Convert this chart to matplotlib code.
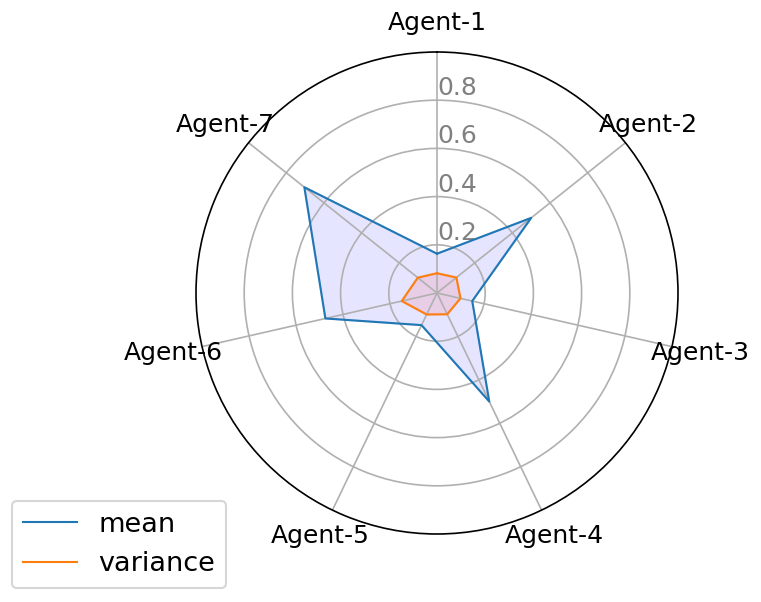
import numpy as np
import matplotlib
matplotlib.use("Agg")
import matplotlib.pyplot as plt

agents = ["Agent-1", "Agent-2", "Agent-3", "Agent-4", "Agent-5", "Agent-6", "Agent-7"]
mean_vals = [0.163, 0.50, 0.15, 0.50, 0.148, 0.475, 0.704]
var_vals = [0.082, 0.103, 0.10, 0.098, 0.099, 0.15, 0.102]
r_ticks = [0.2, 0.4, 0.6, 0.8]

n = len(agents)
angles = np.linspace(0, 2 * np.pi, n, endpoint=False).tolist()
angles_closed = angles + angles[:1]
mean_closed = mean_vals + mean_vals[:1]
var_closed = var_vals + var_vals[:1]

plt.rcParams["font.size"] = 12

fig = plt.figure(figsize=(761 / 150, 602 / 150), dpi=150)
ax = fig.add_axes([196 / 761, 68 / 602, 482 / 761, 482 / 602], polar=True)
ax.set_theta_offset(np.pi / 2)
ax.set_theta_direction(-1)

ax.plot(angles_closed, mean_closed, color="tab:blue", linewidth=1, label="mean")
ax.fill(angles_closed, mean_closed, color="b", alpha=0.1)
ax.plot(angles_closed, var_closed, color="tab:orange", linewidth=1, label="variance")
ax.fill(angles_closed, var_closed, color="r", alpha=0.1)

ax.set_xticks(angles)
ax.set_xticklabels(agents, fontsize=12)
ax.set_rlabel_position(0)
ax.set_yticks(r_ticks)
ax.set_yticklabels([str(t) for t in r_ticks], color="grey", fontsize=12)
ax.set_ylim(0, 1.0)
ax.grid(color="#b0b0b0", linewidth=0.8)

fig.legend(loc="lower left", bbox_to_anchor=(12 / 761, 14 / 602),
           borderaxespad=0, fontsize=13)

fig.savefig("out.png", dpi=150)
